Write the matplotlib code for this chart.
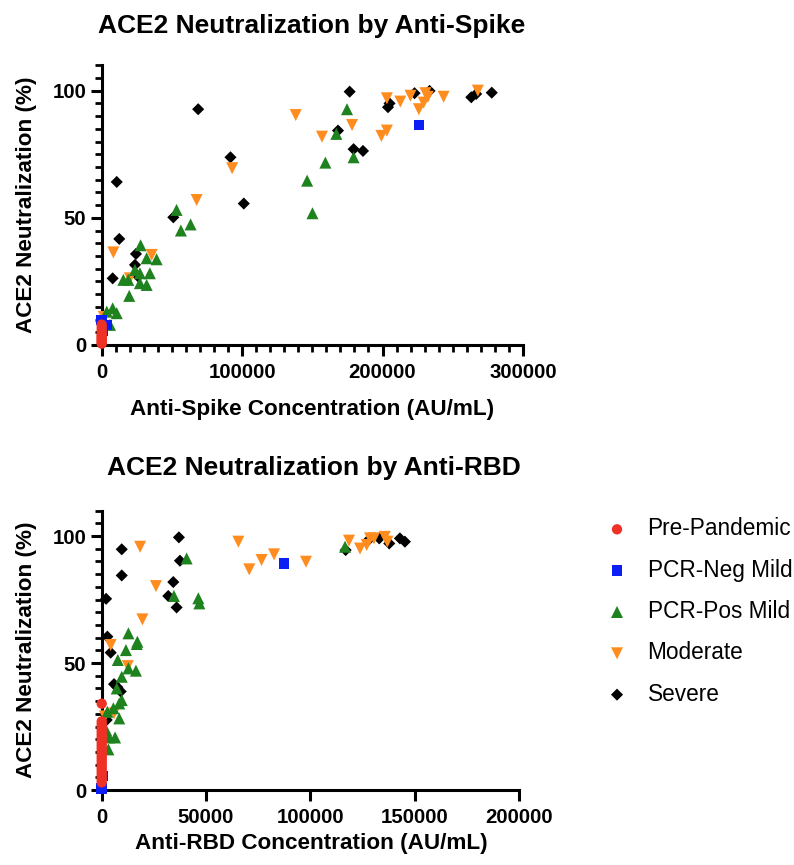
import matplotlib
matplotlib.use("Agg")
import matplotlib.pyplot as plt
from matplotlib.ticker import MultipleLocator

plt.rcParams['font.family'] = ['Liberation Sans', 'DejaVu Sans']

groups = ['Pre-Pandemic', 'PCR-Neg Mild', 'PCR-Pos Mild', 'Moderate', 'Severe']
colors = ['#EE3124', '#0A1EF5', '#1E821E', '#FF8C1F', '#000000']
markers = ['o', 's', '^', 'v', 'D']

# top panel: anti-spike (AU/mL) vs neutralization (%)
spike_pre_x = [0, 0, 0, 0, 0, 0, 0, 0, 0, 0, 0, 0]
spike_pre_y = [0.5, 1, 1.5, 2, 2.5, 3, 3.5, 4, 5, 6, 7, 8]
spike_neg_x = [0, 3600, 500, 225900]
spike_neg_y = [9.8, 7.9, 5.5, 86.5]
spike_pos_x = [146300, 150100, 53300, 56400, 63300, 27700, 32000, 39100, 23700, 27200,
               34300, 15400, 18900, 27200, 32000, 19600, 7800, 3600, 10700, 5900,
               174700, 167100, 179400, 159300]
spike_pos_y = [64.6, 51.8, 53.1, 45.0, 47.4, 39.2, 34.1, 33.7, 29.5, 28.2,
               28.2, 25.6, 25.6, 24.3, 23.6, 19.3, 14.4, 13.1, 12.5, 7.9,
               92.7, 83.0, 73.8, 71.7]
spike_mod_x = [138200, 92900, 67600, 8300, 35600, 20100, 203100, 212700, 219900, 230600,
               232300, 229300, 225900, 243500, 267900, 178300, 156900, 203100, 199200, 1500]
spike_mod_y = [90.4, 69.5, 57.0, 36.4, 35.4, 26.2, 97.0, 95.7, 98.0, 99.0,
               97.6, 95.3, 92.7, 97.6, 100.0, 86.5, 81.9, 84.3, 82.2, 11.0]
spike_sev_x = [68700, 91700, 101200, 10700, 12500, 51000, 24400, 23700, 7800, 26000,
               176600, 205000, 203900, 222800, 233500, 263200, 266700, 277800, 168300, 179400,
               186100]
spike_sev_y = [92.7, 73.8, 55.6, 64.1, 41.7, 50.2, 35.8, 31.5, 26.2, 26.9,
               99.6, 95.0, 93.5, 99.0, 99.9, 97.4, 98.7, 99.2, 84.3, 77.0,
               76.3]

# bottom panel: anti-RBD (AU/mL) vs neutralization (%)
rbd_pre_x = [0] * 26
rbd_pre_y = [34, 27, 26, 25, 24, 23, 22, 21, 20, 19, 18, 17, 16, 15, 14, 13,
             12, 11, 10, 9, 8, 7, 6, 5, 4, 3]
rbd_neg_x = [87400, 300, 0]
rbd_neg_y = [89.2, 5.5, 0.7]
rbd_pos_x = [40700, 34600, 46300, 46800, 12800, 17100, 16800, 11600, 7700, 12800,
             16400, 9600, 7200, 9600, 8400, 5600, 2700, 8400, 6400, 3600,
             3200, 2100, 116600]
rbd_pos_y = [91.2, 76.4, 75.5, 73.5, 61.7, 58.4, 57.5, 55.1, 51.2, 47.9,
             47.0, 44.6, 40.0, 35.4, 34.1, 32.2, 30.8, 28.2, 20.7, 20.7,
             16.0, 23.6, 95.8]
rbd_mod_x = [18400, 65500, 26000, 70700, 76600, 82600, 19500, 4300, 12500, 5900,
             97900, 118500, 123800, 127000, 128600, 130500, 135700, 136900, 1500]
rbd_mod_y = [95.8, 97.8, 80.3, 86.9, 90.6, 92.8, 67.2, 57.1, 48.8, 30.2,
             89.9, 98.2, 95.1, 96.5, 99.1, 99.1, 99.7, 97.8, 29.0]
rbd_sev_x = [37000, 9600, 37500, 9600, 34300, 31900, 35900, 2100, 2700, 4300,
             5900, 9100, 2400, 116900, 127800, 133000, 137800, 142900, 145300, 7500]
rbd_sev_y = [99.5, 94.8, 90.3, 84.5, 81.9, 76.4, 71.9, 75.3, 60.4, 54.1,
             41.7, 38.8, 27.6, 94.5, 98.4, 99.1, 97.1, 99.1, 97.8, 40.5]

spike = [(spike_pre_x, spike_pre_y), (spike_neg_x, spike_neg_y), (spike_pos_x, spike_pos_y),
         (spike_mod_x, spike_mod_y), (spike_sev_x, spike_sev_y)]
rbd = [(rbd_pre_x, rbd_pre_y), (rbd_neg_x, rbd_neg_y), (rbd_pos_x, rbd_pos_y),
       (rbd_mod_x, rbd_mod_y), (rbd_sev_x, rbd_sev_y)]
sizes = [55, 58, 75, 75, 38]
order = [4, 3, 2, 1, 0]  # draw severe first, pre-pandemic on top

fig = plt.figure(figsize=(7.94, 8.65), dpi=100)
ax1 = fig.add_axes([0.1281, 0.6012, 0.5305, 0.3234])
ax2 = fig.add_axes([0.1281, 0.0867, 0.5256, 0.3229])


def style(ax, xmax, xmajor, xminor):
    ax.set_xlim(0, xmax)
    ax.set_ylim(0, 110)
    ax.spines['top'].set_visible(False)
    ax.spines['right'].set_visible(False)
    ax.spines['left'].set_linewidth(2.2)
    ax.spines['bottom'].set_linewidth(2.2)
    ax.xaxis.set_major_locator(MultipleLocator(xmajor))
    if xminor:
        ax.xaxis.set_minor_locator(MultipleLocator(xminor))
    ax.set_yticks([0, 50, 100])
    ax.yaxis.set_minor_locator(MultipleLocator(5))
    ax.tick_params(which='major', length=8, width=2.2, labelsize=14.7)
    ax.tick_params(which='minor', length=5, width=2.0)
    ax.tick_params(axis='x', which='major', pad=5)
    ax.tick_params(axis='y', which='major', pad=3)
    for lab in ax.get_xticklabels() + ax.get_yticklabels():
        lab.set_fontweight('bold')


for ax, data in [(ax1, spike), (ax2, rbd)]:
    for i in order:
        ax.scatter(data[i][0], data[i][1], s=sizes[i], c=colors[i], marker=markers[i],
                   edgecolors='none', clip_on=False, zorder=3, label=groups[i])

style(ax1, 300000, 100000, 10000)
style(ax2, 200000, 50000, None)

fig.text(0.3925, 0.9615, 'ACE2 Neutralization by Anti-Spike', ha='center', va='baseline',
         fontsize=19, fontweight='bold')
fig.text(0.395, 0.4509, 'ACE2 Neutralization by Anti-RBD', ha='center', va='baseline',
         fontsize=19, fontweight='bold')
fig.text(0.3925, 0.5202, 'Anti-Spike Concentration (AU/mL)', ha='center', va='baseline',
         fontsize=16.2, fontweight='bold')
fig.text(0.3925, 0.0185, 'Anti-RBD Concentration (AU/mL)', ha='center', va='baseline',
         fontsize=16.2, fontweight='bold')
fig.text(0.033, 0.763, 'ACE2 Neutralization (%)', ha='center', va='center',
         rotation=90, fontsize=16.2, fontweight='bold')
fig.text(0.033, 0.249, 'ACE2 Neutralization (%)', ha='center', va='center',
         rotation=90, fontsize=16.2, fontweight='bold')

handles, labels = ax2.get_legend_handles_labels()
handles = handles[::-1]
labels = labels[::-1]
fig.legend(handles, labels, loc='upper left', bbox_to_anchor=(0.7443, 0.4125),
           frameon=False, fontsize=16.3, labelspacing=0.81, handletextpad=0.6,
           handlelength=1.5, markerscale=1.0, borderaxespad=0)

fig.savefig('out.png', dpi=100)
